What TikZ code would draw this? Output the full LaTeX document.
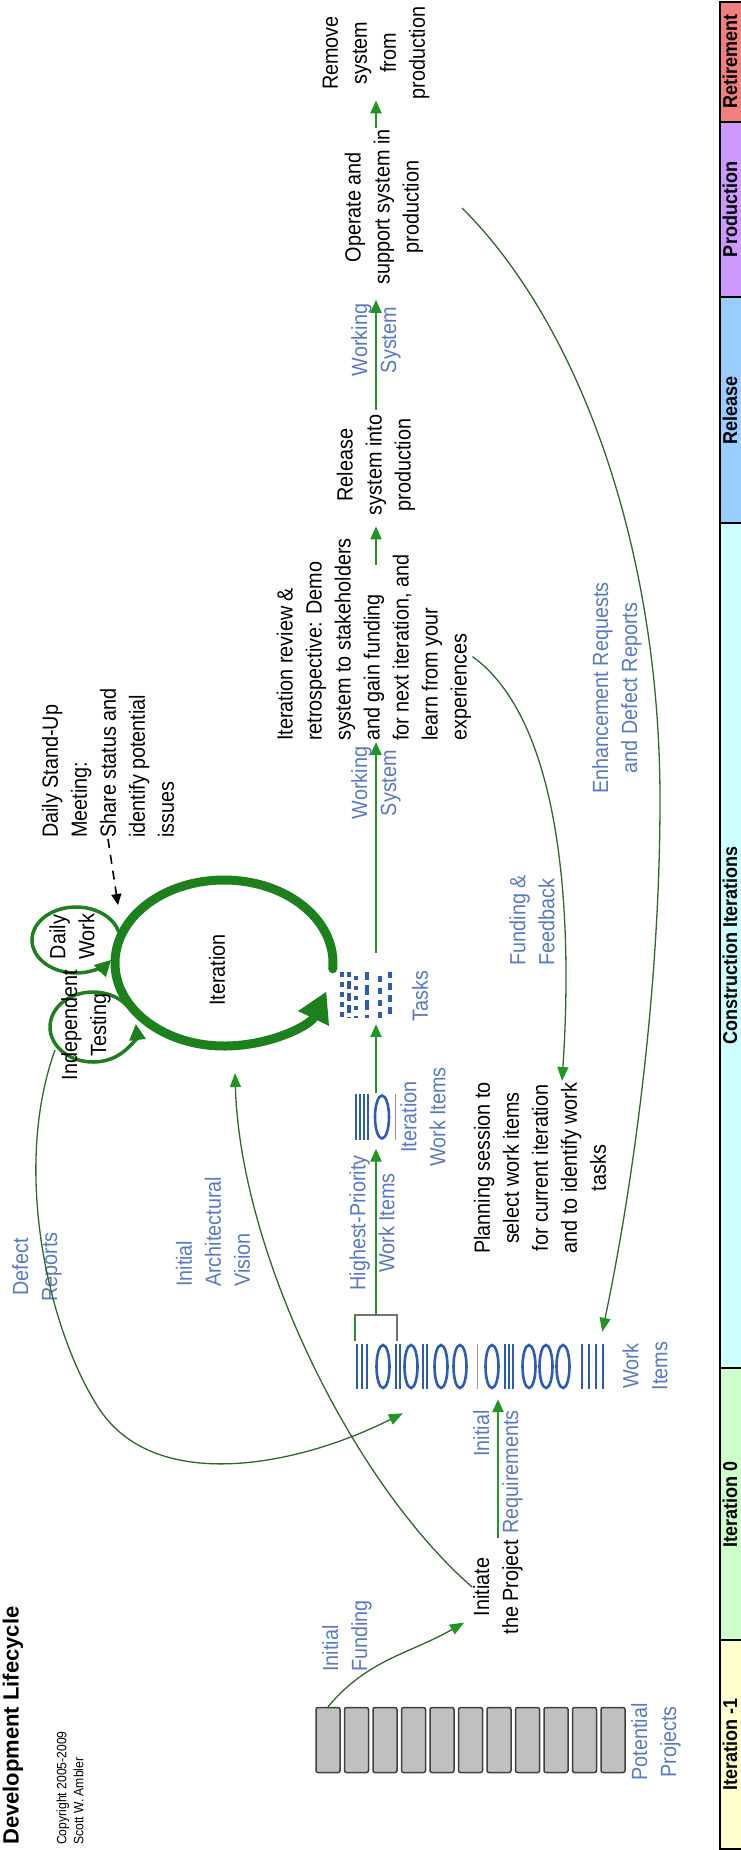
\documentclass[tikz,border=0pt]{standalone}
\usepackage{fontspec}
\setmainfont{Liberation Sans}[FakeStretch=0.9]
\newfontfamily\titlefont{Liberation Sans}
\usetikzlibrary{arrows.meta}

\definecolor{flowgreen}{RGB}{34,150,34}
\definecolor{curvegreen}{RGB}{45,105,45}
\definecolor{ringgreen}{RGB}{28,128,28}
\definecolor{labelblue}{RGB}{88,122,196}
\definecolor{itemblue}{RGB}{44,92,184}
\definecolor{projgray}{RGB}{192,192,192}
\definecolor{phaseRet}{RGB}{240,128,128}
\definecolor{phaseProd}{RGB}{204,153,255}
\definecolor{phaseRel}{RGB}{153,204,255}
\definecolor{phaseCon}{RGB}{204,255,255}
\definecolor{phaseItZero}{RGB}{204,255,204}
\definecolor{phaseItNeg}{RGB}{255,255,204}

\begin{document}
\begin{tikzpicture}[x=1pt, y=-1pt,
  txt/.style={rotate=90, inner sep=1pt, align=center, font=\fontsize{22}{29}\selectfont},
  lbl/.style={txt, text=labelblue},
  phaselbl/.style={rotate=90, inner sep=0pt, font=\fontsize{20}{24}\selectfont\bfseries},
  flow/.style={draw=flowgreen, line width=2.4pt, -{Triangle[length=13pt,width=11pt]}},
  link/.style={draw=curvegreen, line width=1.3pt, -{Triangle[length=14pt,width=11pt,color=flowgreen]}},
  ring/.style={draw=ringgreen, line width=9pt, line cap=round, -{Triangle[length=30pt,width=32pt]}},
  miniring/.style={draw=ringgreen, line width=3.5pt, line cap=round, -{Triangle[length=16pt,width=16pt]}},
  proj/.style={draw=black!75, fill=projgray, line width=1.5pt, rounded corners=2pt,
    minimum width=24pt, minimum height=65pt, inner sep=0pt},
  itembar/.style={draw=itemblue, line width=2.6pt},
  itemoval/.style={draw=itemblue, line width=2.6pt},
  stackbox/.style={inner sep=0pt, minimum height=47pt},
]
\useasboundingbox (0,0) rectangle (740,1850);

% phase bar along the right edge
\foreach \ya/\yb/\col/\plabel [count=\k] in {
    1.5/122/phaseRet/Retirement,
    122/297/phaseProd/Production,
    297/523/phaseRel/Release,
    523/1368/phaseCon/Construction Iterations,
    1368/1640/phaseItZero/Iteration 0,
    1640/1848.5/phaseItNeg/Iteration -1}{
  \draw[fill=\col, line width=2pt] (720,\ya) rectangle (750,\yb);
  \node[phaselbl] (phase\k) at (730,{(\ya+\yb)/2}) {\plabel};
}

% title and copyright
\node[rotate=90, anchor=west, inner sep=0pt,
  font=\titlefont\bfseries\fontsize{22}{26}\selectfont] (title) at (13,1845) {Development Lifecycle};
\node[rotate=90, anchor=west, align=left, inner sep=0pt,
  font=\fontsize{13.5}{17}\selectfont] (copyright) at (70,1845) {Copyright 2005-2009\\Scott W. Ambler};

% potential projects
\foreach \i in {0,...,10} \node[proj] (p\i) at ({328+28.5*\i},1740) {};
\node[lbl] (potential) at (656,1742) {Potential\\Projects};

% work item stack
\node[stackbox, minimum width=259pt] (wi) at (482.5,1366.5) {};
\foreach \x in {357,362,367,396,400,423,427,505,509,513,582,589,596,603}
  \draw[itembar] (\x,1344) -- (\x,1389);
\draw[black!40, line width=1pt] (477,1344) -- (477,1389);
\foreach \x in {383,411,441,460,492,529,546,563}
  \draw[itemoval] (\x,1366.5) ellipse[x radius=6.5, y radius=21.5];
\node[lbl] (wilbl) at (645,1366) {Work\\Items};

% iteration work items
\node[stackbox, minimum width=46pt] (iwi) at (376,1117) {};
\foreach \x in {356,360,364,368} \draw[itembar] (\x,1094) -- (\x,1140);
\draw[itemoval] (382,1117) ellipse[x radius=7, y radius=21.5];
\draw[red!50!black!50, line width=1pt] (395,1094) -- (395,1140);
\node[lbl] (iwilbl) at (423,1117) {Iteration\\Work Items};

% tasks
\node[inner sep=0pt, minimum width=56pt, minimum height=48pt] (tasks) at (367,995) {};
\foreach \x/\on/\off/\ph in {342/5pt/5pt/0pt, 349/8pt/4pt/3pt, 356/4pt/6pt/6pt,
    367/10pt/5pt/2pt, 380/6pt/6pt/8pt, 390/7pt/5pt/1pt}
  \draw[itemblue, line width=3.2pt, dash pattern=on \on off \off, dash phase=\ph] (\x,972) -- (\x,1018);
\node[lbl] (taskslbl) at (420,996) {Tasks};

% iteration rings
\draw[ring] (224,963) ++(4:109 and 83) arc[start angle=4, end angle=-340, x radius=109, y radius=83];
\draw[miniring] (76,940) ++(-15:44 and 33) arc[start angle=-15, end angle=-323, x radius=44, y radius=33];
\draw[miniring] (93,1027) ++(-35:43 and 35) arc[start angle=-35, end angle=-365, x radius=43, y radius=35];
\node[txt] (iterlbl) at (217,970) {Iteration};
\node[txt] (dailylbl) at (72,937) {Daily\\Work};
\node[txt] (testlbl) at (86,1025) {Independent\\Testing};

% daily stand-up
\node[txt, align=left, anchor=west] (standup) at (108,839)
  {Daily Stand-Up\\Meeting:\\Share status and\\identify potential\\issues};
\coordinate (standTip) at (118,905);
\draw[black, line width=1.6pt, dash pattern=on 9pt off 7pt, -{Triangle[length=11pt,width=10pt]}]
  (standup.west) -- (standTip);

% initiation
\node[lbl, align=left] (fundlbl) at (347,1636) {Initial\\Funding};
\node[txt] (initiate) at (498,1587) {Initiate\\the Project};
\draw[link] (p0.north) to[out=50,in=-150] ([xshift=-8pt,yshift=13pt]initiate.north west);
\node[lbl, align=right] (reqlbl) at (498,1472) {Initial\\Requirements};
\draw[flow, shorten >=9pt] (initiate.east) -- (initiate.east |- wi.south);

% main flow
\coordinate (hpTop) at (376,1315);
\draw[black!55, line width=1.5pt] (355,1341) -- (355,1315) -- (397,1315) -- (397,1341);
\draw[flowgreen, line width=2.4pt] (355,1341) -- (355,1315);
\draw[flow, shorten >=8pt] (hpTop) -- (iwi.south);
\node[lbl] (hplbl) at (372,1223) {Highest-Priority\\Work Items};
\draw[flow, shorten >=5pt] (iwi.north) -- (iwi.north |- tasks.south);

\node[txt, align=left, anchor=west] (review) at (374,742)
  {Iteration review \&\\retrospective: Demo\\system to stakeholders\\and gain funding\\for next iteration, and\\learn from your\\experiences};
\draw[flow, shorten <=18pt] (tasks.north -| iwi.north) -- (iwi.north |- review.west);
\node[lbl] (ws1) at (376,783) {Working\\System};

\coordinate (revOut) at (376,565);
\node[txt] (release) at (376,465) {Release\\system into\\production};
\draw[flow, shorten >=10pt] (revOut) -- (revOut |- release.west);
\node[lbl] (ws2) at (376,340) {Working\\System};
\node[txt] (operate) at (384,207) {Operate and\\support system in\\production};
\draw[flow, shorten <=4pt, shorten >=14pt] (release.east) -- (release.east |- operate.west);
\node[txt] (remove) at (376,53) {Remove\\system\\from\\production};
\draw[flow] (operate.east -| remove.west) -- (remove.west);

% planning and feedback loops
\node[txt] (planning) at (540,1168)
  {Planning session to\\select work items\\for current iteration\\and to identify work\\tasks};
\node[lbl, align=left] (fflbl) at (532,920) {Funding \&\\Feedback};
\draw[link] ([yshift=-17pt]review.south) .. controls (558,718) and (574,900) .. ([xshift=22pt]planning.east);

\coordinate (enhStart) at (462,208);
\node[lbl] (enhlbl) at (617,688) {Enhancement Requests\\and Defect Reports};
\draw[link] (enhStart) .. controls (575,320) and (660,540) .. (660,800)
  .. controls (660,1000) and (630,1200) .. ([xshift=-10pt,yshift=11pt]wi.north east);

\coordinate (defStart) at (55,1050);
\node[lbl] (deflbl) at (37,1267) {Defect\\Reports};
\draw[link] (defStart) .. controls (11,1172) and (50,1335) .. (100,1410)
  .. controls (156,1493) and (296,1467) .. ([xshift=50pt,yshift=-23pt]wi.south west);

\node[lbl, align=left, anchor=west] (archlbl) at (213,1288) {Initial\\Architectural\\Vision};
\coordinate (archTip) at (235,1073);
\draw[link] (initiate.north) .. controls (350,1480) and (240,1250) .. (archTip);

\end{tikzpicture}
\end{document}
